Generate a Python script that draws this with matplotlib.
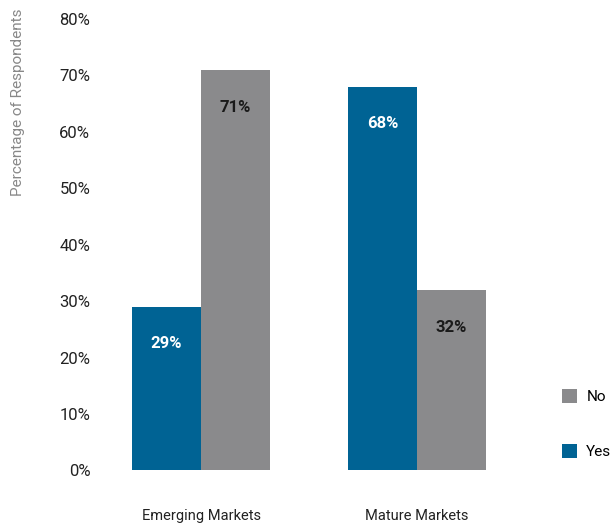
import matplotlib.pyplot as plt
import numpy as np

categories = ["Emerging Markets", "Mature Markets"]
yes_vals = [29, 68]
no_vals = [71, 32]
yticks = [0, 10, 20, 30, 40, 50, 60, 70, 80]

BLUE = "#006394"
GRAY = "#8a8a8c"

plt.rcParams['font.family'] = ['Roboto', 'DejaVu Sans']

fig = plt.figure(figsize=(6.11, 5.24), dpi=100)
ax = fig.add_axes([100 / 611, 48 / 524, 511 / 611, 457 / 524])

x = np.arange(len(categories))
w = 0.32
b_yes = ax.bar(x - w / 2, yes_vals, w, color=BLUE, label="Yes")
b_no = ax.bar(x + w / 2, no_vals, w, color=GRAY, label="No")

for rect, v in zip(b_yes, yes_vals):
    ax.text(rect.get_x() + rect.get_width() / 2, v - 6.6, f"{v}%",
            ha='center', va='center', color='white', fontsize=12, fontweight='bold')
for rect, v in zip(b_no, no_vals):
    ax.text(rect.get_x() + rect.get_width() / 2, v - 6.6, f"{v}%",
            ha='center', va='center', color='#1a1a1a', fontsize=12, fontweight='bold')

ax.set_xlim(-0.468, 1.898)
ax.set_ylim(-1, 79.5)
ax.set_yticks(yticks)
ax.set_yticklabels([f"{t}%" for t in yticks], fontsize=12, color='#222222')
ax.tick_params(axis='y', length=0, pad=7)
ax.set_xticks(x)
ax.set_xticklabels(categories, fontsize=10.5, color='#222222')
ax.tick_params(axis='x', length=0, pad=24)
for s in ax.spines.values():
    s.set_visible(False)

fig.text(18 / 611, 1 - 102 / 524, "Percentage of Respondents", rotation=90,
         ha='center', va='center', fontsize=11, color='#888888')

ax.legend(handles=[b_no, b_yes], labels=["No", "Yes"], frameon=False,
          loc='upper left', bbox_to_anchor=(0.877, 0.22), labelspacing=2.6,
          handlelength=1.0, handleheight=1.0, handletextpad=0.6, fontsize=11)

fig.savefig("out.png", dpi=100)
